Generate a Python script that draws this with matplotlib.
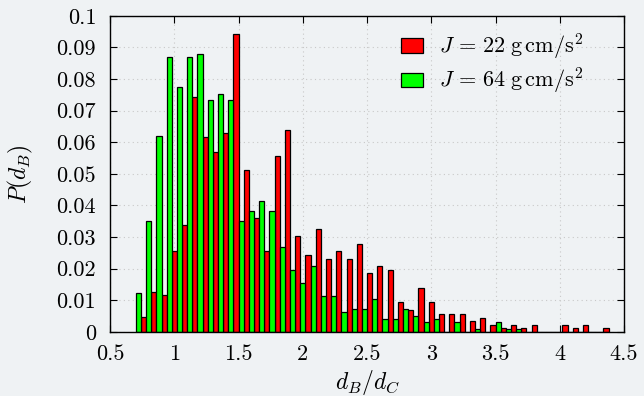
import numpy as np
import matplotlib
matplotlib.use('Agg')
import matplotlib.pyplot as plt

plt.rcParams['font.family'] = ['cmr10', 'DejaVu Serif']
plt.rcParams['mathtext.fontset'] = 'cm'
plt.rcParams['axes.unicode_minus'] = False

# histogram bins: first bin edge and width (each bin holds a green and a red bar)
bin_start = 0.70
bin_width = 0.08

# J = 64 g cm/s^2 (green)
p_j64 = [0.0123, 0.0352, 0.0621, 0.0869, 0.0776, 0.0869, 0.0880, 0.0734, 0.0754, 0.0734,
         0.0352, 0.0384, 0.0414, 0.0384, 0.0269, 0.0196, 0.0154, 0.0207, 0.0114, 0.0114,
         0.0062, 0.0073, 0.0073, 0.0103, 0.0041, 0.0041, 0.0073, 0.0051, 0.0031, 0.0041,
         0.0, 0.0031, 0.0, 0.0010, 0.0, 0.0031, 0.0010, 0.0010, 0.0, 0.0,
         0.0, 0.0, 0.0, 0.0, 0.0, 0.0]
# J = 22 g cm/s^2 (red)
p_j22 = [0.0046, 0.0126, 0.0117, 0.0257, 0.0337, 0.0744, 0.0617, 0.0569, 0.0628, 0.0943,
         0.0511, 0.0360, 0.0257, 0.0557, 0.0639, 0.0302, 0.0243, 0.0326, 0.0232, 0.0256,
         0.0232, 0.0278, 0.0185, 0.0209, 0.0197, 0.0093, 0.0070, 0.0139, 0.0093, 0.0057,
         0.0057, 0.0057, 0.0034, 0.0045, 0.0023, 0.0011, 0.0023, 0.0011, 0.0023, 0.0,
         0.0, 0.0023, 0.0011, 0.0023, 0.0, 0.0011]

xticks = [0.5, 1, 1.5, 2, 2.5, 3, 3.5, 4, 4.5]
xtick_labels = ['0.5', '1', '1.5', '2', '2.5', '3', '3.5', '4', '4.5']
yticks = [0, 0.01, 0.02, 0.03, 0.04, 0.05, 0.06, 0.07, 0.08, 0.09, 0.1]
ytick_labels = ['0', '0.01', '0.02', '0.03', '0.04', '0.05', '0.06', '0.07', '0.08', '0.09', '0.1']

bg = '#eff2f4'
fig = plt.figure(figsize=(6.44, 3.96), dpi=100, facecolor=bg)
ax = fig.add_axes([0.171, 0.162, 0.798, 0.798])
ax.set_facecolor(bg)

edges = bin_start + bin_width * np.arange(len(p_j64))
half = bin_width / 2
ax.bar(edges + half, p_j22, width=half, align='edge', color='#ff0000',
       edgecolor='black', linewidth=0.9, label=r'$J\,=\,22\;\mathrm{g\,cm/s^2}$', zorder=3)
ax.bar(edges, p_j64, width=half, align='edge', color='#00ff00',
       edgecolor='black', linewidth=0.9, label=r'$J\,=\,64\;\mathrm{g\,cm/s^2}$', zorder=3)

ax.set_xlim(0.5, 4.5)
ax.set_ylim(0, 0.1)
ax.set_xticks(xticks)
ax.set_xticklabels(xtick_labels)
ax.set_yticks(yticks)
ax.set_yticklabels(ytick_labels)
ax.tick_params(direction='in', length=5, width=0.8, top=True, right=True,
               labelsize=16, colors='black')
ax.tick_params(axis='y', pad=10)
ax.tick_params(axis='x', pad=9)
ax.grid(True, linestyle=(0, (1, 3)), color='#c8c8c8', linewidth=0.8, zorder=0)
for s in ax.spines.values():
    s.set_linewidth(1.0)
    s.set_zorder(4)

ax.set_xlabel(r'$d_B/d_C$', fontsize=17)
ax.set_ylabel(r'$P(d_B)$', fontsize=17)
ax.xaxis.set_label_coords(0.5, -0.115)
ax.yaxis.set_label_coords(-0.147, 0.5)

leg = ax.legend(loc='upper left', bbox_to_anchor=(0.566, 0.95), frameon=False,
                fontsize=16, handlelength=1.0, handleheight=0.6, handletextpad=0.7,
                labelspacing=0.2, borderpad=0, borderaxespad=0)

fig.savefig('out.png', dpi=100, facecolor=bg)
